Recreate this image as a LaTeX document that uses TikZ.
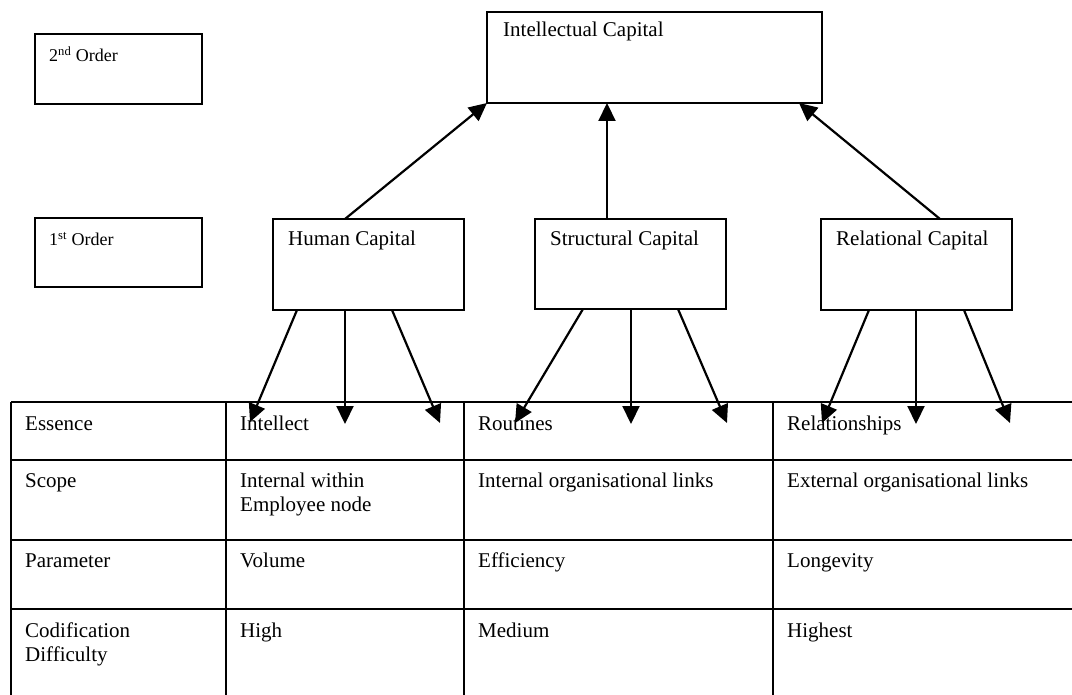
\documentclass[tikz,border=0pt]{standalone}
\usepackage{fontspec}
\setmainfont{Liberation Serif}
\usetikzlibrary{arrows.meta,calc}
\begin{document}
\begin{tikzpicture}[x=1pt,y=-1pt,
  box/.style={draw,line width=1.7pt,rectangle,inner sep=0pt,outer sep=0pt},
  lbl/.style={anchor=base west,inner sep=0pt,font=\fontsize{21}{24}\selectfont},
  small/.style={anchor=base west,inner sep=0pt,font=\fontsize{18}{21}\selectfont},
  cell/.style={anchor=base west,inner sep=0pt,align=left,font=\fontsize{21}{24}\selectfont},
  grid/.style={line width=1.4pt},
  arr/.style={line width=2.2pt,-{Triangle[length=18pt,width=17pt]}}]
\useasboundingbox (0,0) rectangle (1072,695);

% order legend boxes
\node[box,minimum width=167pt,minimum height=70pt] (ord2) at (118.5,69) {};
\node[small] (ord2t) at ($(ord2.north west)+(14,28)$) {2\textsuperscript{nd} Order};
\node[box,minimum width=167pt,minimum height=69pt] (ord1) at (118.5,252.5) {};
\node[small] (ord1t) at ($(ord1.north west)+(14,28)$) {1\textsuperscript{st} Order};

% capital boxes
\node[box,minimum width=335pt,minimum height=91pt] (ic) at (654.5,57.5) {};
\node[lbl] (ict) at ($(ic.north west)+(16,25)$) {Intellectual Capital};
\node[box,minimum width=191pt,minimum height=91pt] (hc) at (368.5,264.5) {};
\node[lbl] (hct) at ($(hc.north west)+(15,27)$) {Human Capital};
\node[box,minimum width=191pt,minimum height=90pt] (sc) at (630.5,264) {};
\node[lbl] (sct) at ($(sc.north west)+(15,27)$) {Structural Capital};
\node[box,minimum width=191pt,minimum height=91pt] (rc) at (916.5,264.5) {};
\node[lbl] (rct) at ($(rc.north west)+(15,27)$) {Relational Capital};

% table grid
\draw[grid] (11,402) -- (1072,402);
\draw[grid] (11,460) -- (1072,460);
\draw[grid] (11,540) -- (1072,540);
\draw[grid] (11,609) -- (1072,609);
\draw[grid] (11,402) -- (11,700);
\draw[grid] (226,402) -- (226,700);
\draw[grid] (464,402) -- (464,700);
\draw[grid] (773,402) -- (773,700);

% table text (two-line cells are placed by the baseline of their last line)
\node[cell] (e0) at (25,430) {Essence};
\node[cell] (e1) at (240,430) {Intellect};
\node[cell] (e2) at (478,430) {Routines};
\node[cell] (e3) at (787,430) {Relationships};
\node[cell] (s0) at (25,487) {Scope};
\node[cell] (s1) at (240,511) {Internal within\\Employee node};
\node[cell] (s2) at (478,487) {Internal organisational links};
\node[cell] (s3) at (787,487) {External organisational links};
\node[cell] (p0) at (25,567) {Parameter};
\node[cell] (p1) at (240,567) {Volume};
\node[cell] (p2) at (478,567) {Efficiency};
\node[cell] (p3) at (787,567) {Longevity};
\node[cell] (c0) at (25,661) {Codification\\Difficulty};
\node[cell] (c1) at (240,637) {High};
\node[cell] (c2) at (478,637) {Medium};
\node[cell] (c3) at (787,637) {Highest};

% arrow ends inside the table
\coordinate (h1) at (250,422);
\coordinate (h2) at (345,424);
\coordinate (h3) at (440,423);
\coordinate (s1e) at (515,423);
\coordinate (s2e) at (631,424);
\coordinate (s3e) at (727,423);
\coordinate (r1) at (822,423);
\coordinate (r2) at (916,424);
\coordinate (r3) at (1010,423);

% upward arrows
\draw[arr] ($(hc.north west)+(72,0)$) -- (ic.south west);
\draw[arr] ($(sc.north west)+(72,0)$) -- ($(ic.south west)+(120,0)$);
\draw[arr] ($(rc.north west)+(119,0)$) -- ($(ic.south east)+(-23,0)$);

% downward arrows
\draw[arr] ($(hc.south west)+(24,0)$) -- (h1);
\draw[arr] ($(hc.south west)+(72,0)$) -- (h2);
\draw[arr] ($(hc.south west)+(119,0)$) -- (h3);
\draw[arr] ($(sc.south west)+(48,0)$) -- (s1e);
\draw[arr] ($(sc.south west)+(96,0)$) -- (s2e);
\draw[arr] ($(sc.south west)+(143,0)$) -- (s3e);
\draw[arr] ($(rc.south west)+(48,0)$) -- (r1);
\draw[arr] ($(rc.south west)+(95,0)$) -- (r2);
\draw[arr] ($(rc.south west)+(143,0)$) -- (r3);
\end{tikzpicture}
\end{document}
